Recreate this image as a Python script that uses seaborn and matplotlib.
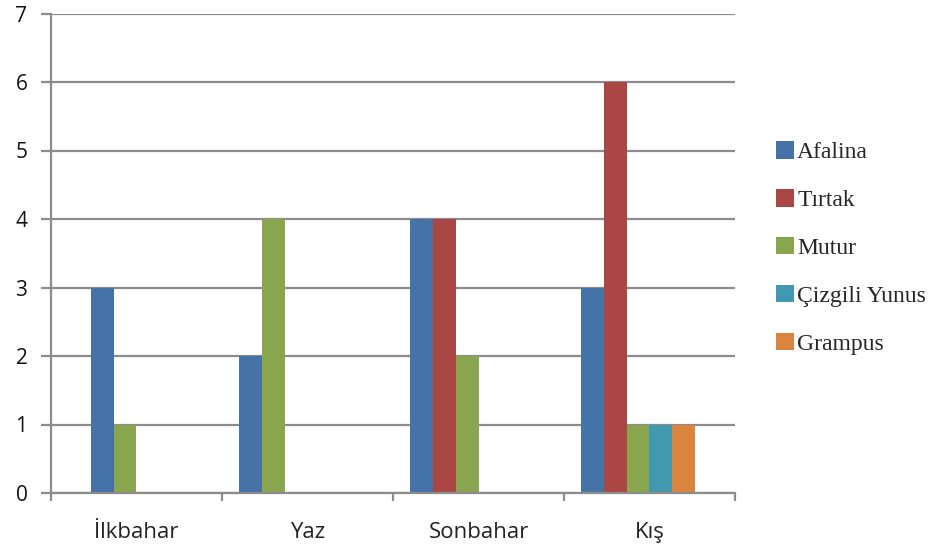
import matplotlib
matplotlib.use("Agg")
import matplotlib.pyplot as plt
from matplotlib.patches import Patch
import seaborn as sns
import pandas as pd

# Dolphin sightings per season
seasons = ["İlkbahar", "Yaz", "Sonbahar", "Kış"]
species = ["Afalina", "Tırtak", "Mutur", "Çizgili Yunus", "Grampus"]
afalina = [3, 2, 4, 3]
tirtak = [0, 0, 4, 6]
mutur = [1, 4, 2, 1]
cizgili = [0, 0, 0, 1]
grampus = [0, 0, 0, 1]
yticks = [0, 1, 2, 3, 4, 5, 6, 7]

colors = ["#4572A7", "#AA4643", "#89A54E", "#4198AF", "#DB843D"]

# each season's cluster has six bar slots; bars are packed from the lead slot
n_slots = 6
cluster_lead = [1, 0, 0, 0]

series = dict(zip(species, [afalina, tirtak, mutur, cizgili, grampus]))
rows = []
for i, season in enumerate(seasons):
    slot = cluster_lead[i]
    for name, vals in series.items():
        if vals[i] > 0:
            rows.append({"season": season, "value": vals[i],
                         "species": name, "slot": f"s{slot}"})
            slot += 1
df = pd.DataFrame(rows)
slots = [f"s{k}" for k in range(n_slots)]

sns.set_theme(style="white")
fig = plt.figure(figsize=(9.51, 5.44), dpi=100)
W, H = 951, 544
ax = fig.add_axes([51 / W, (H - 493) / H, (735 - 51) / W, (493 - 13.5) / H])

for name, color in zip(species, colors):
    sub = df[df["species"] == name]
    sns.barplot(data=sub, x="season", y="value", hue="slot",
                order=seasons, hue_order=slots, dodge=True,
                palette={s: color for s in slots}, saturation=1,
                width=0.8, legend=False, ax=ax, linewidth=0, errorbar=None)

grid_color = "#8C8C8C"
ax.set_ylim(0, 7)
ax.set_xlim(-0.5, len(seasons) - 0.5)
ax.set_yticks(yticks)
ax.yaxis.grid(True, color=grid_color, linewidth=1.6)
ax.set_axisbelow(True)
for side in ["top", "right"]:
    ax.spines[side].set_visible(False)
for side in ["left", "bottom"]:
    ax.spines[side].set_color(grid_color)
    ax.spines[side].set_linewidth(1.6)

# category boundaries get tick marks, labels sit at the centers
ax.set_xticks([k - 0.5 for k in range(len(seasons) + 1)])
ax.set_xticklabels([])
ax.set_xticks(range(len(seasons)), minor=True)
ax.set_xticklabels(seasons, minor=True)
ax.tick_params(axis="x", which="major", direction="out", length=6,
               width=1.6, color=grid_color, bottom=True)
ax.tick_params(axis="x", which="minor", length=0, pad=21,
               labelsize=16, labelcolor="#222222")
ax.tick_params(axis="y", direction="out", length=7, width=1.6,
               color=grid_color, left=True, pad=10,
               labelsize=15, labelcolor="#111111")
ax.set_xlabel("")
ax.set_ylabel("")
for lab in ax.get_xticklabels(minor=True) + ax.get_yticklabels():
    lab.set_family(["Open Sans", "DejaVu Sans"])

handles = [Patch(facecolor=c, edgecolor="none", label=n)
           for n, c in zip(species, colors)]
fig.legend(handles=handles, loc="center left",
           bbox_to_anchor=(776 / W, (H - 248) / H),
           frameon=False, borderpad=0, borderaxespad=0,
           handlelength=0.75, handleheight=0.75, handletextpad=0.15,
           labelspacing=1.1,
           prop={"family": "Liberation Serif", "size": 17})

fig.savefig("out.png", dpi=100)
